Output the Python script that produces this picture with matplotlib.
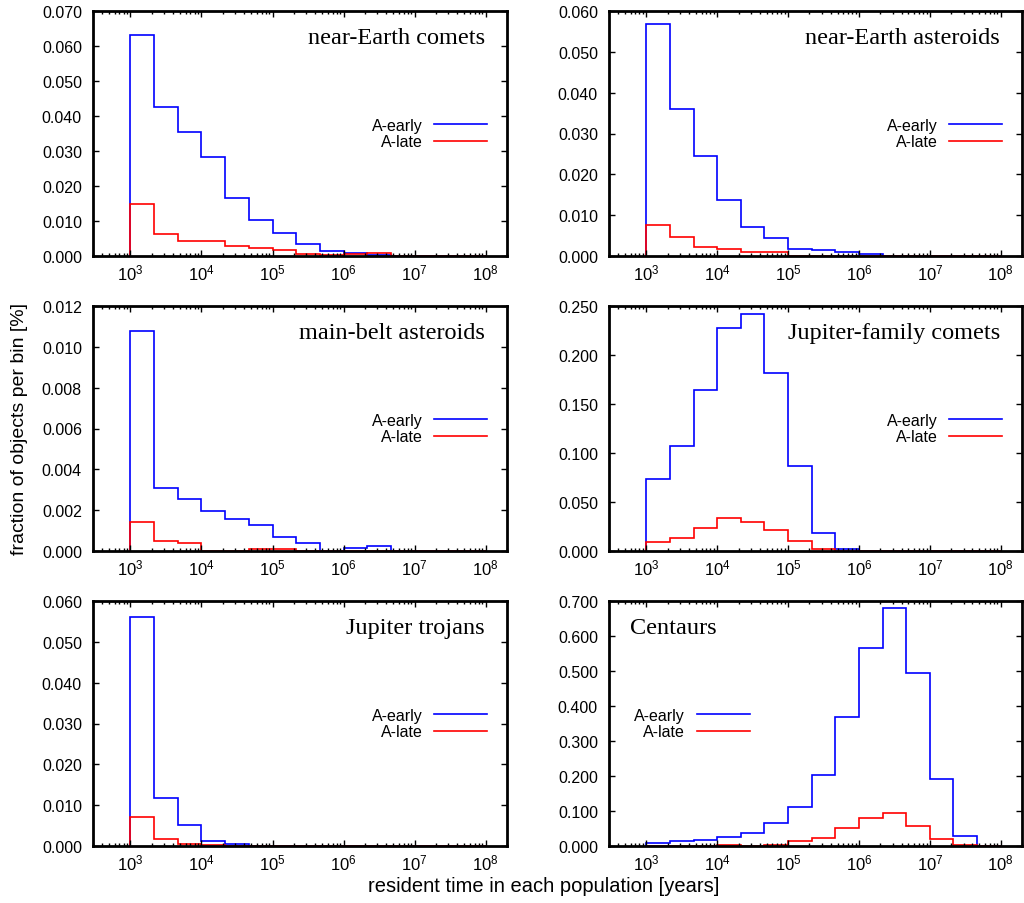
import numpy as np
import matplotlib
matplotlib.use("Agg")
import matplotlib.pyplot as plt
from matplotlib.ticker import (LogLocator, FixedLocator, FormatStrFormatter,
                               NullFormatter, LogFormatterSciNotation)

plt.rcParams["font.family"] = ["Liberation Sans", "DejaVu Sans"]
plt.rcParams["mathtext.default"] = "regular"

# Resident-time bins: three per decade from 1e3 to 1e8 years
bin_edges = np.logspace(3, 8, 16)
decade_ticks = [1e3, 1e4, 1e5, 1e6, 1e7, 1e8]

panel_titles = ["near-Earth comets", "near-Earth asteroids",
                "main-belt asteroids", "Jupiter-family comets",
                "Jupiter trojans", "Centaurs"]
series_labels = ["A-early", "A-late"]

nec_early = [0.0631, 0.0427, 0.0354, 0.0283, 0.0166, 0.0103, 0.0066, 0.0035,
             0.0015, 0.0009, 0.0003, 0.0001, 0.0001, 0.0, 0.0]
nec_late = [0.0150, 0.0064, 0.0042, 0.0042, 0.0030, 0.0023, 0.0017, 0.0007,
            0.0004, 0.0006, 0.0008, 0.0001, 0.0001, 0.0, 0.0]

nea_early = [0.0567, 0.0361, 0.0244, 0.0136, 0.0072, 0.0045, 0.0018, 0.0015,
             0.0011, 0.0004, 0.0001, 0.0, 0.0, 0.0, 0.0]
nea_late = [0.0076, 0.0047, 0.0022, 0.0018, 0.0011, 0.0011, 0.0001, 0.0001,
            0.0, 0.0, 0.0, 0.0, 0.0, 0.0, 0.0]

mba_early = [0.01078, 0.00311, 0.00255, 0.00196, 0.00155, 0.00128, 0.00070,
             0.00041, 0.0, 0.00013, 0.00026, 0.0, 0.0, 0.0, 0.0]
mba_late = [0.00142, 0.00047, 0.00038, 0.0, 0.0, 0.00011, 0.00011, 0.0,
            0.0, 0.0, 0.0, 0.0, 0.0, 0.0, 0.0]

jfc_early = [0.0732, 0.1076, 0.1638, 0.2279, 0.2418, 0.1815, 0.0872, 0.0187,
             0.0024, 0.0004, 0.0, 0.0, 0.0, 0.0, 0.0]
jfc_late = [0.0095, 0.0129, 0.0235, 0.0334, 0.0300, 0.0211, 0.0106, 0.0017,
            0.0, 0.0, 0.0, 0.0, 0.0, 0.0, 0.0]

jt_early = [0.0560, 0.0118, 0.0052, 0.0013, 0.0004, 0.0001, 0.0, 0.0,
            0.0, 0.0001, 0.0, 0.0, 0.0, 0.0, 0.0]
jt_late = [0.0070, 0.0016, 0.0006, 0.0002, 0.0, 0.0, 0.0, 0.0,
           0.0, 0.0, 0.0, 0.0, 0.0, 0.0, 0.0]

cen_early = [0.0096, 0.0143, 0.018, 0.025, 0.038, 0.065, 0.111, 0.203,
             0.369, 0.567, 0.679, 0.494, 0.192, 0.030, 0.0]
cen_late = [0.001, 0.001, 0.001, 0.002, 0.001, 0.004, 0.013, 0.024,
            0.051, 0.081, 0.093, 0.056, 0.020, 0.003, 0.0]

early_sets = [nec_early, nea_early, mba_early, jfc_early, jt_early, cen_early]
late_sets = [nec_late, nea_late, mba_late, jfc_late, jt_late, cen_late]

y_max = [0.070, 0.060, 0.012, 0.250, 0.060, 0.700]
y_step = [0.010, 0.010, 0.002, 0.050, 0.010, 0.100]

fig = plt.figure(figsize=(10.24, 9.04), dpi=100)
W, H = 1024.0, 904.0
col_x = [(93, 507), (609, 1022)]
row_y = [(12, 257), (307, 552), (602, 847)]

for i in range(6):
    r, c = divmod(i, 2)
    x0, x1 = col_x[c]
    yt, yb = row_y[r]
    ax = fig.add_axes([x0 / W, 1 - yb / H, (x1 - x0) / W, (yb - yt) / H])

    ax.stairs(early_sets[i], bin_edges, color="#0000ff", lw=1.2,
              baseline=0, label=series_labels[0])
    ax.stairs(late_sets[i], bin_edges, color="#ff0000", lw=1.2,
              baseline=0, label=series_labels[1])

    ax.set_xscale("log")
    ax.set_xlim(2.97e2, 2.0e8)
    ax.set_ylim(0, y_max[i])
    ax.xaxis.set_major_locator(FixedLocator(decade_ticks))
    ax.xaxis.set_major_formatter(LogFormatterSciNotation(base=10))
    minor = LogLocator(base=10, subs=np.arange(2, 10), numticks=20)
    minor_vals = [v for v in minor.tick_values(3e2, 2e8) if 2.97e2 <= v <= 2.0e8]
    ax.xaxis.set_minor_locator(FixedLocator(minor_vals))
    ax.xaxis.set_minor_formatter(NullFormatter())
    ax.yaxis.set_major_locator(FixedLocator(np.arange(0, y_max[i] + y_step[i] / 2, y_step[i])))
    ax.yaxis.set_major_formatter(FormatStrFormatter("%.3f"))

    ax.tick_params(which="both", direction="in", top=True, right=True, width=1.0)
    ax.tick_params(which="major", length=4)
    ax.tick_params(which="minor", length=2)
    ax.tick_params(axis="y", pad=8, labelsize=11.5)
    ax.tick_params(axis="x", pad=5, labelsize=12)
    for sp in ax.spines.values():
        sp.set_linewidth(2.0)

    if i == 5:
        ax.text(0.052, 0.87, panel_titles[i], transform=ax.transAxes,
                ha="left", va="baseline", fontsize=17.5,
                family=["Liberation Serif", "DejaVu Serif"])
        leg_anchor = (0.341, 0.5)
    else:
        ax.text(0.947, 0.868, panel_titles[i], transform=ax.transAxes,
                ha="right", va="baseline", fontsize=17.5,
                family=["Liberation Serif", "DejaVu Serif"])
        leg_anchor = (0.952, 0.5)

    ax.legend(loc="center right", bbox_to_anchor=leg_anchor, frameon=False,
              markerfirst=False, fontsize=11.5, handlelength=3.3,
              handletextpad=0.75, labelspacing=0.12, borderpad=0,
              borderaxespad=0)

fig.text(20 / W, 1 - 429 / H, "fraction of objects per bin [%]",
         rotation=90, ha="center", va="center", fontsize=14)
fig.text(544 / W, 1 - 887 / H, "resident time in each population [years]",
         ha="center", va="center", fontsize=14.5)

fig.savefig("out.png", dpi=100)
